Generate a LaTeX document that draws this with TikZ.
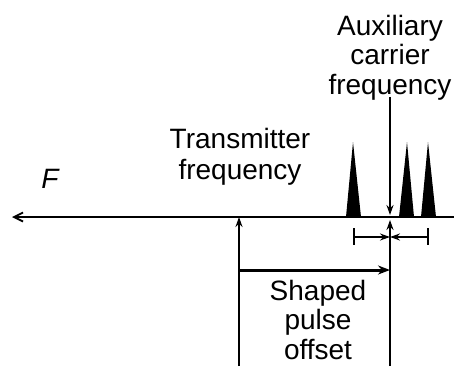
\documentclass[tikz,border=0pt]{standalone}
\usepackage{fontspec}
\setmainfont{Liberation Sans}
\usepackage{tikz}
\usetikzlibrary{arrows.meta, positioning}

\begin{document}
\begin{tikzpicture}[x=1pt, y=-1pt,
    lbl/.style={inner sep=0pt, align=center, font=\fontsize{28}{29.5}\selectfont},
    ln/.style={line width=1.8pt},
    tip/.style={-{Stealth[length=10pt, width=7pt]}}]
  \useasboundingbox (0,0) rectangle (454,366);

  % frequency axis and reference points
  \coordinate (axisL) at (12,217);
  \coordinate (axisR) at (454,217);
  \coordinate (txTop) at (239,217);
  \coordinate (txBot) at (239,366);
  \coordinate (auxTop) at (390,97);
  \coordinate (auxBot) at (390,366);
  \coordinate (auxDn) at (390,215);
  \coordinate (auxUp) at (390,220);

  \draw[ln, -{Straight Barb[length=9pt, width=9pt]}] (axisR) -- (axisL);
  \draw[ln, tip] (txBot) -- (txTop);
  \draw[ln, tip] (auxTop) -- (auxDn);
  \draw[ln, tip] (auxBot) -- (auxUp);

  % pulses
  \fill (346,217) -- (353,142) -- (361,217) -- cycle;
  \fill (399,217) -- (407,142) -- (414,217) -- cycle;
  \fill (421,217) -- (428,142) -- (436,217) -- cycle;

  % spacing marks
  \coordinate (barL) at (354,237);
  \coordinate (barR) at (428,237);
  \coordinate (barM) at (390,237);
  \draw[ln] (354,228) -- (354,245);
  \draw[ln] (428,228) -- (428,245);
  \draw[ln, tip] (barL) -- (barM);
  \draw[ln, tip] (barR) -- (barM);

  % offset arrow
  \coordinate (offL) at (239,270);
  \coordinate (offR) at (390,270);
  \draw[line width=3pt, -{Stealth[length=12pt, width=9pt]}] (offL) -- (offR);

  \node[lbl, anchor=north] (auxtxt) at (390,15) {Auxiliary\\carrier\\frequency};
  \node[lbl, anchor=north, font=\fontsize{28}{31}\selectfont] (txtxt) at (240,128) {Transmitter\\frequency};
  \node[lbl, anchor=north] (offtxt) at (318,280) {Shaped\\pulse\\offset};
  \node[lbl, anchor=base, font=\fontsize{28}{29.5}\selectfont\itshape] (ftxt) at (50,188) {F};
\end{tikzpicture}
\end{document}
